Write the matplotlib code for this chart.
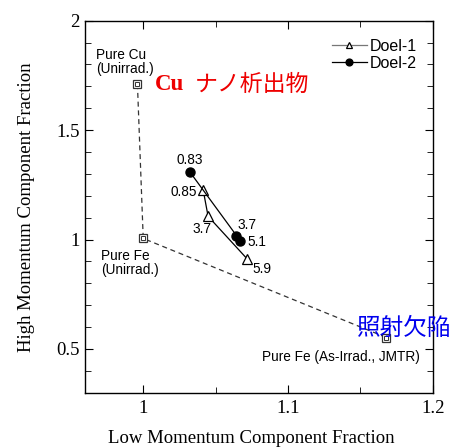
import matplotlib
matplotlib.use("Agg")
import matplotlib.pyplot as plt
from matplotlib.ticker import MultipleLocator

# reference points (pure Cu, pure Fe unirradiated, pure Fe irradiated)
ref_x = [0.996, 1.0, 1.168]
ref_y = [1.71, 1.005, 0.552]

# Doel-1 surveillance data and fluence labels
doel1_x = [1.0414, 1.0448, 1.0717]
doel1_y = [1.226, 1.106, 0.912]
doel1_lbl = ["0.85", "3.7", "5.9"]

# Doel-2
doel2_x = [1.0322, 1.0644, 1.0667]
doel2_y = [1.309, 1.018, 0.995]
doel2_lbl = ["0.83", "3.7", "5.1"]

serif = "Liberation Serif"
sans = "Liberation Sans"
cjk = ["Noto Sans CJK JP", "DejaVu Sans"]

fig = plt.figure(figsize=(4.49, 4.48), dpi=100)
ax = fig.add_axes([0.190, 0.1234, 0.774, 0.8304])

# dashed reference path
ax.plot(ref_x, ref_y, ls=(0, (4, 3)), color="#333333", lw=0.9, zorder=1)
ax.plot(ref_x, ref_y, ls="none", marker="s", ms=5.5, mfc="white",
        mec="#333333", mew=0.9, zorder=2)
ax.plot(ref_x, ref_y, ls="none", marker="s", ms=2.2, mfc="white",
        mec="#333333", mew=0.7, zorder=3)

ax.plot(doel1_x, doel1_y, color="black", lw=0.9, marker="^", ms=6.5,
        mfc="white", mec="black", mew=0.9, label="Doel-1", zorder=4)
ax.plot(doel2_x, doel2_y, color="black", lw=0.9, marker="o", ms=6.5,
        mfc="black", mec="black", label="Doel-2", zorder=4)

ax.set_xlim(0.96, 1.2)
ax.set_ylim(0.3, 2.0)
ax.xaxis.set_minor_locator(MultipleLocator(0.05))
ax.yaxis.set_minor_locator(MultipleLocator(0.1))
ax.set_xticks([1.0, 1.1, 1.2])
ax.set_xticklabels(["1", "1.1", "1.2"])
ax.set_yticks([0.5, 1.0, 1.5, 2.0])
ax.set_yticklabels(["0.5", "1", "1.5", "2"])
ax.tick_params(which="both", direction="in", top=True, right=True,
               labelsize=13.5)
ax.tick_params(axis="x", pad=5)
ax.tick_params(axis="y", pad=4)
ax.tick_params(which="major", length=6)
ax.tick_params(which="minor", length=4)
for lab in ax.get_xticklabels() + ax.get_yticklabels():
    lab.set_fontfamily(serif)
for sp in ax.spines.values():
    sp.set_linewidth(1.0)

ax.set_xlabel("Low Momentum Component Fraction", fontsize=13.5,
              family=serif)
ax.xaxis.set_label_coords(0.4766, -0.100)
ax.set_ylabel("High Momentum Component Fraction", fontsize=13.5,
              family=serif, labelpad=15)

# point labels
fs = 9.8
ax.text(0.9672, 1.81, "Pure Cu\n(Unirrad.)", fontsize=fs, family=sans,
        va="center", ha="left", linespacing=1.0)
ax.text(0.9708, 0.891, "Pure Fe\n(Unirrad.)", fontsize=fs, family=sans,
        va="center", ha="left", linespacing=1.0)
ax.text(1.0823, 0.462, "Pure Fe (As-Irrad., JMTR)", fontsize=fs,
        family=sans, va="center", ha="left")

ax.text(1.0322, 1.362, doel2_lbl[0], fontsize=fs, family=sans,
        ha="center", va="center")
ax.text(1.0368, 1.217, doel1_lbl[0], fontsize=fs, family=sans,
        ha="right", va="center")
ax.text(1.0340, 1.049, doel1_lbl[1], fontsize=fs, family=sans,
        ha="left", va="center")
ax.text(1.0648, 1.067, doel2_lbl[1], fontsize=fs, family=sans,
        ha="left", va="center")
ax.text(1.0717, 0.991, doel2_lbl[2], fontsize=fs, family=sans,
        ha="left", va="center")
ax.text(1.0754, 0.864, doel1_lbl[2], fontsize=fs, family=sans,
        ha="left", va="center")

# Japanese annotations
ax.text(1.0081, 1.708, "Cu", fontsize=16.5, family=serif, weight="bold",
        color="#ee0000", ha="left", va="center")
ax.text(1.0357, 1.708, "ナノ析出物", fontsize=16.5, family=cjk,
        color="#ee0000", ha="left", va="center")
ax.text(1.1473, 0.594, "照射欠陥", fontsize=17, family=cjk,
        color="#0000ee", ha="left", va="center", clip_on=False)

leg = ax.legend(loc="upper left", bbox_to_anchor=(0.7095, 0.951),
                frameon=False, prop={"family": sans, "size": 11.5},
                handlelength=2.2, borderaxespad=0, borderpad=0,
                labelspacing=0.1, handletextpad=0.15, markerscale=0.75)
leg.legend_handles[0].set_color("#777777")
leg.legend_handles[0].set_markeredgecolor("black")

fig.savefig("out.png", dpi=100)
